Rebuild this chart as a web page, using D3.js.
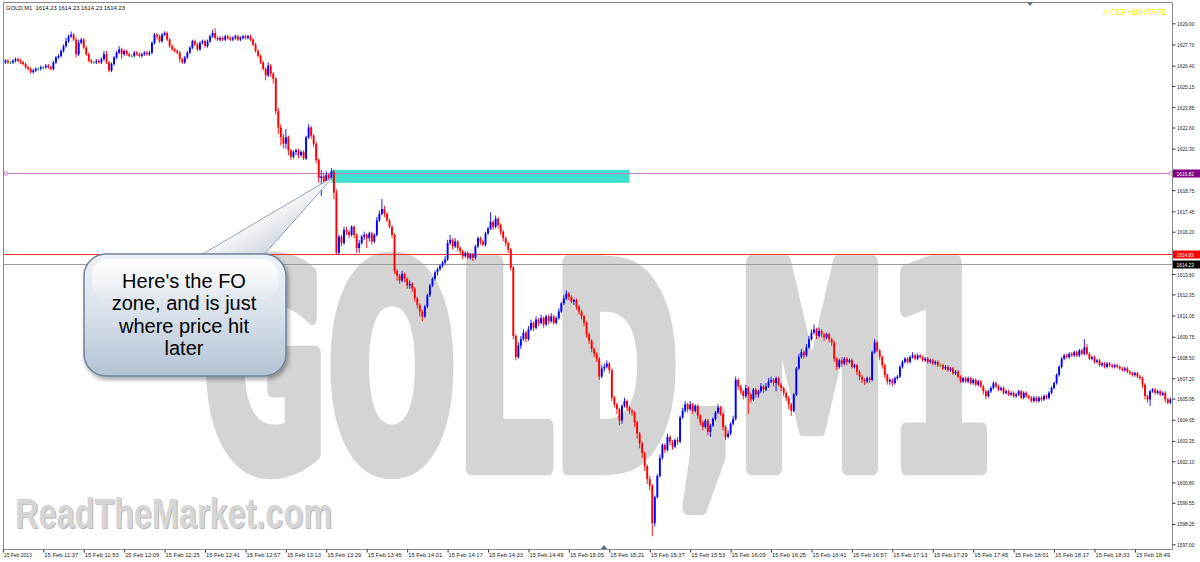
<!DOCTYPE html>
<html><head><meta charset="utf-8">
<script src="https://cdn.jsdelivr.net/npm/d3@7"></script>
<style>body{margin:0;background:#fff}svg{display:block}</style>
</head><body>
<svg id="c" width="1200" height="562"></svg>
<script>
// ---------------- DATA ----------------
const symbolTitle = "GOLD,M1  1614.23 1614.23 1614.23 1614.23";
const firstCandleTime = "11:22";
const axisStart = "11:21", axisEnd = "19:03";
const opens = [
1626.6,1626.7,1626.6,1626.6,1626.7,1626.8,1626.7,1626.6,1626.5,1626.3,
1626.2,1626.0,1626.1,1626.2,1626.2,1626.3,1626.3,1626.4,1626.3,1626.2,
1626.6,1626.9,1627.0,1627.3,1627.6,1627.9,1628.2,1628.3,1628.0,1627.1,
1627.8,1628.0,1627.5,1627.1,1626.7,1626.6,1626.6,1626.7,1626.6,1626.8,
1627.1,1626.6,1626.1,1626.5,1626.9,1627.2,1627.4,1627.1,1627.3,1627.1,
1627.0,1627.0,1627.2,1627.1,1627.0,1627.1,1627.2,1627.1,1627.2,1627.8,
1628.3,1628.2,1627.9,1628.3,1628.4,1628.0,1627.6,1627.4,1627.3,1627.2,
1626.8,1626.6,1626.9,1627.2,1627.5,1627.9,1627.7,1627.4,1627.8,1627.9,
1627.6,1627.9,1628.2,1628.4,1628.1,1628.0,1628.1,1628.0,1628.2,1628.1,
1628.0,1628.1,1628.2,1628.0,1628.1,1628.2,1628.1,1628.2,1628.0,1627.7,
1627.3,1627.0,1626.6,1626.2,1625.8,1626.4,1625.9,1625.6,1623.6,1622.6,
1622.0,1621.6,1622.0,1621.2,1620.8,1621.1,1621.2,1620.9,1621.1,1620.7,
1622.0,1622.6,1622.1,1621.6,1620.6,1619.5,1619.6,1619.3,1619.7,1619.5,
1619.9,1618.6,1614.9,1615.9,1615.5,1616.3,1616.2,1616.0,1616.5,1616.0,
1615.2,1615.5,1615.9,1616.0,1615.8,1616.1,1615.6,1616.0,1616.9,1617.3,
1617.6,1617.3,1616.9,1616.5,1616.0,1613.8,1613.5,1613.2,1613.6,1613.3,
1612.9,1613.0,1612.7,1612.1,1611.7,1611.3,1611.0,1611.6,1612.3,1612.9,
1613.3,1613.7,1613.9,1614.1,1614.3,1614.5,1615.5,1615.7,1615.3,1615.6,
1615.2,1615.0,1614.7,1614.9,1614.6,1614.8,1614.6,1615.3,1615.8,1615.6,
1615.4,1616.1,1616.4,1616.8,1616.5,1617.0,1616.6,1616.2,1615.8,1615.5,
1615.1,1614.0,1609.8,1608.5,1609.2,1609.6,1610.0,1609.6,1610.2,1610.6,
1610.3,1610.8,1610.6,1610.9,1610.5,1611.0,1610.7,1611.0,1610.6,1610.9,
1611.3,1611.8,1612.1,1612.4,1612.2,1611.9,1612.0,1611.6,1611.3,1611.0,
1610.6,1609.9,1609.5,1609.0,1608.7,1608.4,1607.3,1607.8,1607.9,1608.1,
1607.7,1606.0,1605.6,1605.3,1604.6,1605.5,1605.8,1605.4,1605.2,1605.1,
1604.5,1603.8,1603.2,1602.6,1601.8,1601.0,1600.6,1598.3,1599.9,1601.2,
1602.3,1603.1,1602.8,1603.6,1603.3,1603.0,1603.4,1603.3,1604.8,1605.2,
1605.6,1605.3,1605.6,1605.2,1605.5,1604.9,1604.5,1604.2,1604.6,1603.9,
1604.3,1604.7,1605.1,1605.4,1605.0,1604.2,1603.6,1603.8,1604.4,1604.7,
1607.1,1606.7,1606.4,1606.1,1606.6,1606.2,1605.9,1606.5,1606.2,1606.4,
1606.7,1606.5,1606.7,1607.0,1607.1,1606.9,1607.2,1606.8,1606.6,1606.3,
1606.0,1605.6,1605.2,1606.2,1607.8,1608.5,1608.8,1608.6,1609.1,1609.6,
1610.0,1610.2,1609.8,1610.1,1609.9,1609.7,1609.9,1609.6,1609.4,1608.4,
1607.9,1608.3,1608.1,1608.4,1608.2,1608.3,1607.9,1608.0,1607.6,1607.3,
1607.1,1607.0,1607.2,1607.1,1608.8,1609.4,1608.9,1608.5,1608.0,1607.4,
1607.0,1607.1,1606.9,1607.2,1607.3,1607.9,1608.2,1608.4,1608.2,1608.5,
1608.6,1608.4,1608.6,1608.5,1608.3,1608.4,1608.2,1608.3,1608.1,1608.2,
1608.0,1608.0,1607.8,1607.9,1607.7,1607.8,1607.5,1607.6,1607.3,1607.0,
1607.2,1607.0,1607.2,1606.9,1607.1,1606.8,1607.0,1606.7,1606.4,1606.1,
1606.4,1606.6,1606.9,1606.7,1606.5,1606.6,1606.3,1606.4,1606.2,1606.3,
1606.1,1606.2,1606.4,1606.0,1606.3,1606.1,1606.0,1605.8,1606.0,1605.8,
1606.0,1605.9,1606.1,1606.0,1606.3,1606.6,1606.9,1607.4,1607.9,1608.4,
1608.6,1608.5,1608.7,1608.6,1608.8,1608.6,1608.9,1608.7,1609.1,1608.7,
1608.4,1608.5,1608.2,1608.3,1608.0,1608.1,1607.9,1608.1,1608.0,1607.9,
1608.0,1607.9,1607.8,1607.7,1607.8,1607.6,1607.5,1607.4,1607.5,1607.3,
1607.2,1606.8,1606.1,1605.9,1606.4,1606.5,1606.3,1606.4,1606.2,1606.3,1605.9,1605.7];
const highs = [
1626.8,1626.8,1626.7,1626.8,1626.9,1626.9,1626.8,1626.7,1626.6,1626.4,
1626.3,1626.2,1626.3,1626.3,1626.4,1626.4,1626.5,1626.5,1626.4,1626.7,
1627.0,1627.1,1627.4,1627.7,1628.1,1628.3,1628.5,1628.4,1628.1,1628.0,
1628.1,1628.1,1627.6,1627.2,1626.8,1626.7,1626.8,1626.8,1626.9,1627.3,
1627.3,1626.7,1626.6,1627.0,1627.3,1627.6,1627.5,1627.4,1627.4,1627.2,
1627.1,1627.3,1627.3,1627.2,1627.2,1627.3,1627.3,1627.3,1627.9,1628.4,
1628.4,1628.3,1628.4,1628.5,1628.5,1628.1,1627.7,1627.5,1627.4,1627.3,
1626.9,1627.0,1627.3,1627.6,1628.0,1628.0,1627.8,1627.9,1628.0,1628.0,
1628.0,1628.3,1628.6,1628.7,1628.2,1628.2,1628.2,1628.3,1628.3,1628.2,
1628.2,1628.3,1628.3,1628.2,1628.3,1628.3,1628.3,1628.3,1628.1,1627.8,
1627.4,1627.1,1626.7,1626.3,1626.6,1626.5,1626.0,1625.7,1623.8,1622.8,
1622.2,1622.5,1622.1,1621.3,1621.2,1621.3,1621.3,1621.2,1621.2,1622.1,
1622.8,1622.7,1622.2,1621.7,1620.7,1620.0,1619.8,1619.9,1619.8,1620.1,
1620.0,1618.8,1616.0,1616.0,1616.5,1616.5,1616.3,1616.6,1616.6,1616.1,
1615.7,1616.0,1616.2,1616.1,1616.2,1616.2,1616.1,1617.1,1617.5,1618.2,
1617.8,1617.4,1617.0,1616.6,1616.1,1613.9,1613.6,1613.8,1613.7,1613.4,
1613.2,1613.1,1612.8,1612.2,1611.8,1611.4,1611.7,1612.4,1613.0,1613.4,
1613.8,1614.0,1614.2,1614.4,1614.7,1615.7,1616.0,1615.8,1615.8,1615.7,
1615.3,1615.1,1615.0,1615.0,1614.9,1614.9,1615.4,1615.9,1615.9,1615.7,
1616.2,1616.5,1617.4,1616.9,1617.2,1617.1,1616.7,1616.3,1615.9,1615.6,
1615.2,1614.1,1609.9,1609.4,1609.8,1610.2,1610.1,1610.4,1610.8,1610.7,
1611.0,1610.9,1611.1,1611.0,1611.1,1611.1,1611.2,1611.1,1611.0,1611.5,
1611.9,1612.3,1612.6,1612.5,1612.3,1612.1,1612.1,1611.7,1611.4,1611.1,
1610.7,1610.0,1609.6,1609.1,1608.8,1608.5,1608.0,1608.1,1608.3,1608.2,
1607.8,1606.1,1605.7,1605.4,1605.6,1606.0,1605.9,1605.5,1605.3,1605.2,
1604.6,1603.9,1603.3,1602.7,1601.9,1601.2,1600.7,1600.0,1601.3,1602.5,
1603.2,1603.2,1603.8,1603.7,1603.4,1603.5,1603.6,1604.9,1605.4,1605.8,
1605.7,1605.8,1605.7,1605.6,1605.6,1605.0,1604.6,1604.7,1604.7,1604.4,
1604.8,1605.2,1605.6,1605.5,1605.1,1604.3,1604.0,1604.5,1604.9,1607.3,
1607.2,1606.8,1606.5,1606.8,1606.7,1606.3,1606.6,1606.6,1606.5,1606.9,
1606.8,1606.9,1607.2,1607.3,1607.2,1607.3,1607.3,1606.9,1606.7,1606.4,
1606.1,1605.7,1606.3,1607.9,1608.7,1609.0,1608.9,1609.3,1609.8,1610.2,
1610.5,1610.3,1610.3,1610.2,1610.0,1610.0,1610.0,1609.7,1609.5,1608.5,
1608.4,1608.5,1608.5,1608.5,1608.4,1608.4,1608.1,1608.1,1607.7,1607.4,
1607.2,1607.3,1607.3,1608.9,1609.6,1609.5,1609.0,1608.6,1608.1,1607.5,
1607.2,1607.2,1607.3,1607.4,1608.0,1608.3,1608.5,1608.5,1608.6,1608.8,
1608.7,1608.7,1608.7,1608.6,1608.5,1608.5,1608.4,1608.4,1608.3,1608.3,
1608.1,1608.1,1608.0,1608.0,1607.9,1607.9,1607.7,1607.7,1607.4,1607.3,
1607.3,1607.3,1607.3,1607.2,1607.2,1607.1,1607.1,1606.8,1606.5,1606.5,
1606.7,1607.0,1607.0,1606.8,1606.7,1606.7,1606.5,1606.5,1606.4,1606.4,
1606.3,1606.5,1606.5,1606.4,1606.4,1606.2,1606.1,1606.1,1606.1,1606.1,
1606.1,1606.2,1606.2,1606.4,1606.7,1607.0,1607.5,1608.0,1608.5,1608.7,
1608.7,1608.8,1608.8,1608.9,1608.9,1609.0,1609.0,1609.6,1609.3,1608.8,
1608.6,1608.6,1608.4,1608.4,1608.2,1608.2,1608.2,1608.2,1608.1,1608.1,
1608.1,1608.0,1607.9,1607.9,1607.9,1607.7,1607.6,1607.6,1607.6,1607.4,
1607.3,1606.9,1606.2,1606.5,1606.6,1606.6,1606.5,1606.5,1606.4,1606.4,1606.0,1606.0];
const lows = [
1626.5,1626.5,1626.5,1626.5,1626.6,1626.6,1626.5,1626.4,1626.2,1626.1,
1625.9,1625.9,1626.0,1626.1,1626.1,1626.2,1626.2,1626.2,1626.1,1626.1,
1626.5,1626.8,1626.9,1627.2,1627.5,1627.8,1628.1,1627.9,1626.9,1627.0,
1627.7,1627.4,1627.0,1626.6,1626.5,1626.5,1626.5,1626.5,1626.5,1626.7,
1626.5,1626.0,1626.0,1626.4,1626.8,1627.1,1626.8,1627.0,1627.0,1626.9,
1626.9,1626.9,1627.0,1626.9,1626.9,1627.0,1627.0,1627.0,1627.1,1627.7,
1628.0,1627.8,1627.8,1628.2,1627.9,1627.5,1627.3,1627.2,1627.1,1626.6,
1626.5,1626.5,1626.8,1627.1,1627.4,1627.6,1627.3,1627.3,1627.7,1627.5,
1627.5,1627.8,1628.1,1628.0,1627.9,1627.9,1627.9,1627.9,1628.0,1627.9,
1627.9,1628.0,1627.9,1627.9,1628.0,1628.0,1628.0,1627.9,1627.6,1627.2,
1626.9,1626.5,1626.1,1625.5,1625.7,1625.7,1625.3,1623.4,1622.2,1621.5,
1621.3,1621.3,1620.9,1620.6,1620.7,1620.9,1620.7,1620.8,1620.6,1620.6,
1621.9,1621.9,1621.4,1620.4,1619.2,1618.4,1619.0,1619.1,1619.3,1619.4,
1618.2,1614.8,1614.8,1615.3,1615.4,1616.0,1615.8,1615.9,1615.8,1614.9,
1614.9,1615.4,1615.7,1615.2,1615.6,1615.4,1615.5,1615.9,1616.8,1617.2,
1617.1,1616.8,1616.4,1615.8,1613.6,1613.2,1613.0,1613.1,1613.1,1612.7,
1612.7,1612.5,1611.9,1611.5,1611.0,1610.7,1610.9,1611.5,1612.2,1612.8,
1613.2,1613.5,1613.8,1614.0,1614.2,1614.4,1615.4,1615.1,1615.2,1615.0,
1614.8,1614.5,1614.6,1614.5,1614.5,1614.4,1614.5,1615.2,1615.4,1615.3,
1615.3,1616.0,1616.3,1616.3,1616.4,1616.4,1616.0,1615.6,1615.3,1614.9,
1613.8,1609.6,1608.3,1608.4,1609.0,1609.5,1609.4,1609.5,1610.1,1610.1,
1610.2,1610.4,1610.5,1610.3,1610.4,1610.5,1610.6,1610.5,1610.5,1610.8,
1611.2,1611.7,1612.0,1612.0,1611.8,1611.7,1611.4,1611.1,1610.8,1610.4,
1609.7,1609.3,1608.8,1608.5,1608.2,1607.1,1607.2,1607.6,1607.8,1607.5,
1605.8,1605.4,1605.0,1604.3,1604.4,1605.4,1605.2,1605.0,1604.9,1604.2,
1603.5,1602.9,1602.3,1601.5,1600.7,1600.3,1597.5,1598.1,1599.8,1601.1,
1602.2,1602.6,1602.7,1603.1,1602.8,1602.9,1603.1,1603.2,1604.7,1605.1,
1605.1,1605.2,1605.0,1605.1,1604.7,1604.3,1604.0,1604.1,1603.7,1603.6,
1604.2,1604.6,1605.0,1604.9,1604.0,1603.4,1603.5,1603.7,1604.3,1604.6,
1606.5,1606.2,1605.9,1606.0,1605.0,1605.7,1605.8,1606.0,1606.0,1606.3,
1606.3,1606.4,1606.6,1606.9,1606.7,1606.4,1606.7,1606.4,1606.1,1605.8,
1605.3,1604.9,1605.1,1606.1,1607.7,1608.4,1608.4,1608.5,1609.0,1609.5,
1609.9,1609.6,1609.7,1609.7,1609.5,1609.6,1609.4,1609.2,1608.2,1607.7,
1607.8,1607.9,1608.0,1608.0,1608.1,1607.8,1607.8,1607.4,1607.1,1606.9,
1606.8,1606.9,1606.9,1607.0,1608.7,1608.8,1608.3,1607.8,1607.2,1606.8,
1606.8,1606.7,1606.8,1607.1,1607.2,1607.8,1608.1,1608.1,1608.1,1608.4,
1608.3,1608.3,1608.4,1608.2,1608.2,1608.1,1608.1,1608.0,1608.0,1607.9,
1607.9,1607.7,1607.7,1607.6,1607.6,1607.4,1607.4,1607.2,1606.9,1606.9,
1606.9,1606.9,1606.8,1606.8,1606.7,1606.7,1606.6,1606.2,1605.9,1606.0,
1606.3,1606.5,1606.6,1606.4,1606.4,1606.2,1606.2,1606.1,1606.1,1606.0,
1606.0,1606.1,1605.9,1605.9,1606.0,1605.9,1605.7,1605.7,1605.7,1605.7,
1605.8,1605.8,1605.9,1605.9,1606.2,1606.5,1606.8,1607.3,1607.8,1608.3,
1608.4,1608.4,1608.5,1608.5,1608.5,1608.5,1608.6,1608.6,1608.6,1608.3,
1608.3,1608.1,1608.1,1607.9,1607.9,1607.8,1607.8,1607.9,1607.8,1607.8,
1607.8,1607.7,1607.6,1607.6,1607.5,1607.4,1607.3,1607.3,1607.2,1607.1,
1606.6,1605.9,1605.7,1605.5,1606.3,1606.2,1606.2,1606.1,1606.1,1605.7,1605.6,1605.6];
const closes = [
1626.7,1626.6,1626.6,1626.7,1626.8,1626.7,1626.6,1626.5,1626.3,1626.2,
1626.0,1626.1,1626.2,1626.2,1626.3,1626.3,1626.4,1626.3,1626.2,1626.6,
1626.9,1627.0,1627.3,1627.6,1627.9,1628.2,1628.3,1628.0,1627.1,1627.8,
1628.0,1627.5,1627.1,1626.7,1626.6,1626.6,1626.7,1626.6,1626.8,1627.1,
1626.6,1626.1,1626.5,1626.9,1627.2,1627.4,1627.1,1627.3,1627.1,1627.0,
1627.0,1627.2,1627.1,1627.0,1627.1,1627.2,1627.1,1627.2,1627.8,1628.3,
1628.2,1627.9,1628.3,1628.4,1628.0,1627.6,1627.4,1627.3,1627.2,1626.8,
1626.6,1626.9,1627.2,1627.5,1627.9,1627.7,1627.4,1627.8,1627.9,1627.6,
1627.9,1628.2,1628.4,1628.1,1628.0,1628.1,1628.0,1628.2,1628.1,1628.0,
1628.1,1628.2,1628.0,1628.1,1628.2,1628.1,1628.2,1628.0,1627.7,1627.3,
1627.0,1626.6,1626.2,1625.8,1626.4,1625.9,1625.6,1623.6,1622.6,1622.0,
1621.6,1622.0,1621.2,1620.8,1621.1,1621.2,1620.9,1621.1,1620.7,1622.0,
1622.6,1622.1,1621.6,1620.6,1619.5,1619.6,1619.3,1619.7,1619.5,1619.9,
1618.6,1614.9,1615.9,1615.5,1616.3,1616.2,1616.0,1616.5,1616.0,1615.2,
1615.5,1615.9,1616.0,1615.8,1616.1,1615.6,1616.0,1616.9,1617.3,1617.6,
1617.3,1616.9,1616.5,1616.0,1613.8,1613.5,1613.2,1613.6,1613.3,1612.9,
1613.0,1612.7,1612.1,1611.7,1611.3,1611.0,1611.6,1612.3,1612.9,1613.3,
1613.7,1613.9,1614.1,1614.3,1614.5,1615.5,1615.7,1615.3,1615.6,1615.2,
1615.0,1614.7,1614.9,1614.6,1614.8,1614.6,1615.3,1615.8,1615.6,1615.4,
1616.1,1616.4,1616.8,1616.5,1617.0,1616.6,1616.2,1615.8,1615.5,1615.1,
1614.0,1609.8,1608.5,1609.2,1609.6,1610.0,1609.6,1610.2,1610.6,1610.3,
1610.8,1610.6,1610.9,1610.5,1611.0,1610.7,1611.0,1610.6,1610.9,1611.3,
1611.8,1612.1,1612.4,1612.2,1611.9,1612.0,1611.6,1611.3,1611.0,1610.6,
1609.9,1609.5,1609.0,1608.7,1608.4,1607.3,1607.8,1607.9,1608.1,1607.7,
1606.0,1605.6,1605.3,1604.6,1605.5,1605.8,1605.4,1605.2,1605.1,1604.5,
1603.8,1603.2,1602.6,1601.8,1601.0,1600.6,1598.3,1599.9,1601.2,1602.3,
1603.1,1602.8,1603.6,1603.3,1603.0,1603.4,1603.3,1604.8,1605.2,1605.6,
1605.3,1605.6,1605.2,1605.5,1604.9,1604.5,1604.2,1604.6,1603.9,1604.3,
1604.7,1605.1,1605.4,1605.0,1604.2,1603.6,1603.8,1604.4,1604.7,1607.1,
1606.7,1606.4,1606.1,1606.6,1606.2,1605.9,1606.5,1606.2,1606.4,1606.7,
1606.5,1606.7,1607.0,1607.1,1606.9,1607.2,1606.8,1606.6,1606.3,1606.0,
1605.6,1605.2,1606.2,1607.8,1608.5,1608.8,1608.6,1609.1,1609.6,1610.0,
1610.2,1609.8,1610.1,1609.9,1609.7,1609.9,1609.6,1609.4,1608.4,1607.9,
1608.3,1608.1,1608.4,1608.2,1608.3,1607.9,1608.0,1607.6,1607.3,1607.1,
1607.0,1607.2,1607.1,1608.8,1609.4,1608.9,1608.5,1608.0,1607.4,1607.0,
1607.1,1606.9,1607.2,1607.3,1607.9,1608.2,1608.4,1608.2,1608.5,1608.6,
1608.4,1608.6,1608.5,1608.3,1608.4,1608.2,1608.3,1608.1,1608.2,1608.0,
1608.0,1607.8,1607.9,1607.7,1607.8,1607.5,1607.6,1607.3,1607.0,1607.2,
1607.0,1607.2,1606.9,1607.1,1606.8,1607.0,1606.7,1606.4,1606.1,1606.4,
1606.6,1606.9,1606.7,1606.5,1606.6,1606.3,1606.4,1606.2,1606.3,1606.1,
1606.2,1606.4,1606.0,1606.3,1606.1,1606.0,1605.8,1606.0,1605.8,1606.0,
1605.9,1606.1,1606.0,1606.3,1606.6,1606.9,1607.4,1607.9,1608.4,1608.6,
1608.5,1608.7,1608.6,1608.8,1608.6,1608.9,1608.7,1609.1,1608.7,1608.4,
1608.5,1608.2,1608.3,1608.0,1608.1,1607.9,1608.1,1608.0,1607.9,1608.0,
1607.9,1607.8,1607.7,1607.8,1607.6,1607.5,1607.4,1607.5,1607.3,1607.2,
1606.8,1606.1,1605.9,1606.4,1606.5,1606.3,1606.4,1606.2,1606.3,1605.9,1605.7,1605.9];

const priceTicks = [1629.00,1627.70,1626.40,1625.15,1623.85,1622.60,1621.30,1618.75,1617.45,1616.20,
  1613.60,1612.35,1611.05,1609.75,1608.50,1607.20,1605.95,1604.65,1603.35,1602.10,1600.80,1599.55,1598.25,1597.00];
const tickTimes = ["11:21","11:37","11:53","12:09","12:25","12:41","12:57","13:13","13:29","13:45","14:01","14:17",
  "14:33","14:49","15:05","15:21","15:37","15:53","16:09","16:25","16:41","16:57","17:13","17:29","17:45","18:01","18:17","18:33","18:49"];
const tickLabels = ["15 Feb 2013","15 Feb 11:37","15 Feb 11:53","15 Feb 12:09","15 Feb 12:25","15 Feb 12:41","15 Feb 12:57",
  "15 Feb 13:13","15 Feb 13:29","15 Feb 13:45","15 Feb 14:01","15 Feb 14:17","15 Feb 14:33","15 Feb 14:49","15 Feb 15:05",
  "15 Feb 15:21","15 Feb 15:37","15 Feb 15:53","15 Feb 16:09","15 Feb 16:25","15 Feb 16:41","15 Feb 16:57","15 Feb 17:13",
  "15 Feb 17:29","15 Feb 17:45","15 Feb 18:01","15 Feb 18:17","15 Feb 18:33","15 Feb 18:49"];
const levelPrices = [1619.82, 1614.83, 1614.23];
const levelLabels = ["1619.82", "1614.83", "1614.23"];
const levelColors = ["#c27ec2", "#ff3030", "#9a9a9a"];
const levelBoxColors = ["#800080", "#ff0000", "#000000"];
const zonePrices = [1619.2, 1620.0];
const zoneTimes = ["13:31", "15:29"];
const calloutLines = ["Here's the FO", "zone, and is just", "where price hit", "later"];
const watermark = "GOLD,M1";
const siteMark = "ReadTheMarket.com";
const cornerTag = "A:CEP+60HTRFE";

// ---------------- DRAW ----------------
const svg = d3.select("#c");
const parseT = s => d3.timeParse("%Y-%m-%d %H:%M")("2013-02-15 " + s);
const pl = 3, pr = 1172, pt = 3, pb = 549;
const x = d3.scaleTime().domain([parseT(axisStart), parseT(axisEnd)]).range([2.87, 1170.3]);
const y = d3.scaleLinear().domain([1597.0, 1629.0]).range([544.3, 23.3]);
const t0 = parseT(firstCandleTime);
const data = closes.map((c, k) => ({t: d3.timeMinute.offset(t0, k), o: opens[k], h: highs[k], l: lows[k], c}));

const defs = svg.append("defs");
defs.append("clipPath").attr("id", "plot").append("rect").attr("x", pl).attr("y", pt).attr("width", pr - pl).attr("height", pb - pt);

svg.append("rect").attr("width", 1200).attr("height", 562).attr("fill", "#fff");

// watermarks
svg.append("g").attr("transform", "translate(203,467) scale(1,1.86)")
  .append("text").attr("x", 0).attr("y", 0).attr("font-family", "DejaVu Sans, Liberation Sans, sans-serif")
  .attr("font-weight", "bold").attr("font-size", 150).attr("textLength", 790).attr("lengthAdjust", "spacingAndGlyphs")
  .attr("fill", "#d4d4d4").attr("stroke", "#d4d4d4").attr("stroke-width", 9).attr("stroke-linejoin", "round").text(watermark);
const sm = svg.append("g").attr("transform", "translate(15,528) scale(1,1.33)");
sm.append("text").attr("x", 1).attr("y", 0.8).attr("font-family", "Liberation Sans, Arial, sans-serif")
  .attr("font-weight", "bold").attr("font-size", 32).attr("textLength", 317).attr("lengthAdjust", "spacingAndGlyphs")
  .attr("fill", "#b8b8b8").text(siteMark);
sm.append("text").attr("x", 0).attr("y", 0).attr("font-family", "Liberation Sans, Arial, sans-serif")
  .attr("font-weight", "bold").attr("font-size", 32).attr("textLength", 317).attr("lengthAdjust", "spacingAndGlyphs")
  .attr("fill", "#d6d6d6").text(siteMark);

const plot = svg.append("g").attr("clip-path", "url(#plot)");

// zone
plot.append("rect").attr("x", x(parseT(zoneTimes[0]))).attr("width", x(parseT(zoneTimes[1])) - x(parseT(zoneTimes[0])))
  .attr("y", y(zonePrices[1])).attr("height", y(zonePrices[0]) - y(zonePrices[1])).attr("fill", "#40e0d0");

// level lines
levelPrices.forEach((p, i) => {
  plot.append("line").attr("x1", pl).attr("x2", pr).attr("y1", Math.round(y(p)) + 0.5).attr("y2", Math.round(y(p)) + 0.5)
    .attr("stroke", levelColors[i]).attr("stroke-width", 1);
});
[pl + 1.5, pr - 3].forEach(xx => plot.append("rect").attr("x", xx).attr("y", Math.round(y(levelPrices[0])) - 1)
  .attr("width", 3).attr("height", 3).attr("fill", "#fff").attr("stroke", levelColors[0]).attr("stroke-width", 0.8));

// candles
const col = d => d.c > d.o ? "#0000ff" : (d.c < d.o ? "#ff0000" : "#22a022");
const cg = plot.append("g");
cg.selectAll("line").data(data).join("line")
  .attr("x1", d => x(d.t)).attr("x2", d => x(d.t))
  .attr("y1", d => y(d.h)).attr("y2", d => y(d.l))
  .attr("stroke", col).attr("stroke-width", 0.9);
cg.selectAll("rect").data(data).join("rect")
  .attr("x", d => x(d.t) - 0.95).attr("width", 1.9)
  .attr("y", d => y(Math.max(d.o, d.c)))
  .attr("height", d => Math.max(0.9, Math.abs(y(d.o) - y(d.c))))
  .attr("fill", col);

// frame
svg.append("path").attr("d", `M${pl + 0.5},${pb + 0.5}V${pt - 0.5}H${pr + 0.5}V${pb + 0.5}H${pl + 0.5}`)
  .attr("fill", "none").attr("stroke", "#8a8a8a").attr("stroke-width", 1);

// right axis
const yAxis = d3.axisRight(y).tickValues(priceTicks).tickFormat(d3.format(".2f")).tickSize(3).tickSizeOuter(0);
const ya = svg.append("g").attr("transform", `translate(${pr + 0.5},0)`).call(yAxis);
ya.select(".domain").remove();
ya.selectAll("line").attr("stroke", "#333");
ya.selectAll("text").attr("x", 4.5).attr("dy", "0.34em").attr("font-family", "Liberation Sans, Arial, sans-serif")
  .attr("font-size", 6).attr("fill", "#222").attr("textLength", 17.5).attr("lengthAdjust", "spacingAndGlyphs");

// level price boxes
levelPrices.forEach((p, i) => {
  const yy = Math.round(y(p)) + 0.5;
  svg.append("rect").attr("x", pr + 1).attr("y", yy - 4).attr("width", 28).attr("height", 8).attr("fill", levelBoxColors[i]);
  svg.append("text").attr("x", pr + 4.5).attr("y", yy + 2.2).attr("font-family", "Liberation Sans, Arial, sans-serif")
    .attr("font-size", 6).attr("fill", "#fff").attr("textLength", 17.5).attr("lengthAdjust", "spacingAndGlyphs").text(levelLabels[i]);
});

// bottom axis
const tickDates = tickTimes.map(parseT);
const xAxis = d3.axisBottom(x).tickValues(tickDates).tickFormat((d, i) => tickLabels[i]).tickSize(3).tickSizeOuter(0);
const xa = svg.append("g").attr("transform", `translate(0,${pb + 0.5})`).call(xAxis);
xa.select(".domain").remove();
xa.selectAll("line").attr("stroke", "#333");
xa.selectAll("text").attr("text-anchor", "start").attr("x", 0.5).attr("y", 7.5).attr("dy", 0)
  .attr("font-family", "Liberation Sans, Arial, sans-serif").attr("font-size", 6.2).attr("fill", "#222")
  .attr("textLength", (d, i) => i === 0 ? 28 : 34).attr("lengthAdjust", "spacingAndGlyphs");

// header and corner tag
svg.append("text").attr("x", 6).attr("y", 10).attr("font-family", "Liberation Sans, Arial, sans-serif")
  .attr("font-size", 6.2).attr("fill", "#111").attr("textLength", 119).attr("lengthAdjust", "spacingAndGlyphs")
  .attr("xml:space", "preserve").text(symbolTitle);
svg.append("text").attr("x", 1103).attr("y", 15).attr("font-family", "Liberation Sans, Arial, sans-serif")
  .attr("font-size", 9.5).attr("fill", "#f2f200").attr("textLength", 64).attr("lengthAdjust", "spacingAndGlyphs").text(cornerTag);

// shift markers
svg.append("path").attr("d", "M1027,2 L1033,2 L1030,6 Z").attr("fill", "#5a6a7a");
svg.append("path").attr("d", "M601,549 L607,549 L604,545 Z").attr("fill", "#5a6a7a");

// callout
const g1 = defs.append("linearGradient").attr("id", "cgrad").attr("x1", 0).attr("y1", 0).attr("x2", 0).attr("y2", 1);
g1.append("stop").attr("offset", "0%").attr("stop-color", "#eef2f7");
g1.append("stop").attr("offset", "45%").attr("stop-color", "#dbe3ec");
g1.append("stop").attr("offset", "100%").attr("stop-color", "#b3c2d3");
const g2 = defs.append("linearGradient").attr("id", "tgrad").attr("x1", 0).attr("y1", 0).attr("x2", 1).attr("y2", 1);
g2.append("stop").attr("offset", "0%").attr("stop-color", "#7f90a4");
g2.append("stop").attr("offset", "50%").attr("stop-color", "#f4f6f9");
g2.append("stop").attr("offset", "100%").attr("stop-color", "#a5b3c3");
const g3 = defs.append("linearGradient").attr("id", "hgrad").attr("x1", 0).attr("y1", 0).attr("x2", 0).attr("y2", 1);
g3.append("stop").attr("offset", "0%").attr("stop-color", "#fff").attr("stop-opacity", 0.95);
g3.append("stop").attr("offset", "100%").attr("stop-color", "#fff").attr("stop-opacity", 0.1);
const f = defs.append("filter").attr("id", "sh").attr("x", "-20%").attr("y", "-20%").attr("width", "140%").attr("height", "140%");
f.append("feDropShadow").attr("dx", 2).attr("dy", 3).attr("stdDeviation", 2).attr("flood-color", "#000").attr("flood-opacity", 0.35);

const co = svg.append("g");
co.append("path").attr("d", "M196,258 L262,257 L333,177 Z").attr("fill", "url(#tgrad)").attr("stroke", "#7d8ea3").attr("stroke-width", 0.8);
co.append("rect").attr("x", 84).attr("y", 254).attr("width", 202).attr("height", 122).attr("rx", 22)
  .attr("fill", "url(#cgrad)").attr("stroke", "#6f8399").attr("stroke-width", 1.5).attr("filter", "url(#sh)");
co.append("rect").attr("x", 92).attr("y", 259).attr("width", 186).attr("height", 40).attr("rx", 16)
  .attr("fill", "url(#hgrad)");
co.selectAll("text.cl").data(calloutLines).join("text").attr("class", "cl")
  .attr("x", 184).attr("y", (d, i) => 287.5 + i * 22.5).attr("text-anchor", "middle")
  .attr("font-family", "Liberation Sans, Arial, sans-serif").attr("font-size", 20).attr("fill", "#000").text(d => d);
</script>
</body></html>
